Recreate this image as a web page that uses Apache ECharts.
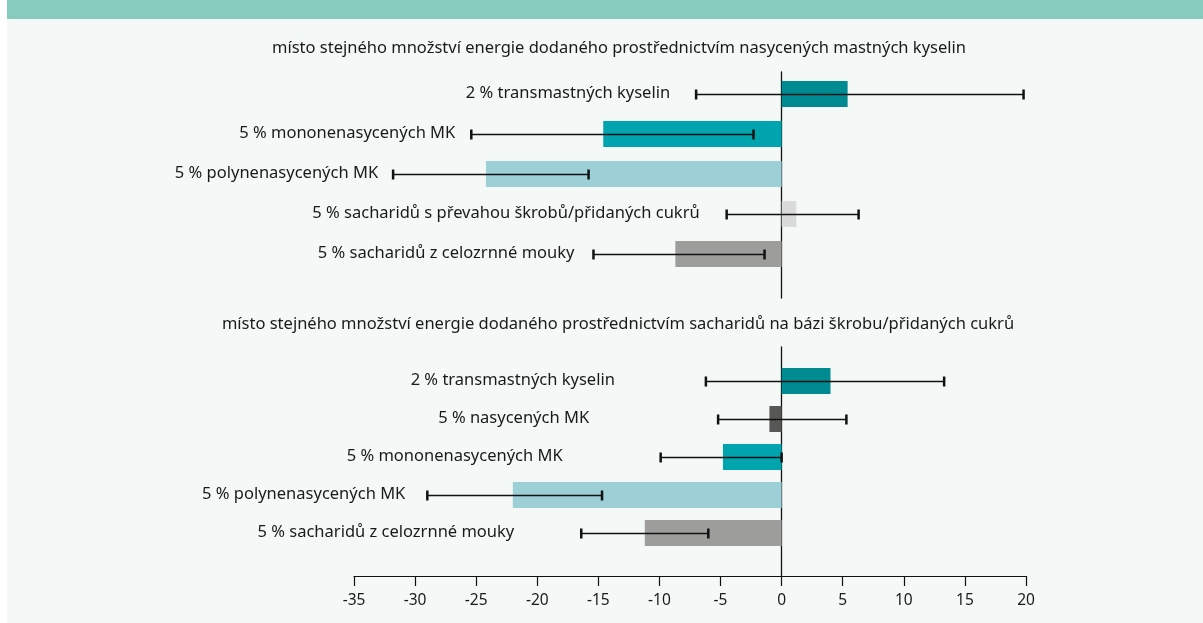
<!DOCTYPE html>
<html>
<head>
<meta charset="utf-8">
<script src="https://cdn.jsdelivr.net/npm/echarts@6/dist/echarts.min.js"></script>
<style>
html,body{margin:0;padding:0;background:#ffffff;}
#chart{width:1203px;height:623px;}
</style>
</head>
<body>
<div id="chart"></div>
<script>
// ---- data ----
const titleTop = 'místo stejného množství energie dodaného prostřednictvím nasycených mastných kyselin';
const titleBottom = 'místo stejného množství energie dodaného prostřednictvím sacharidů na bázi škrobu/přidaných cukrů';

const categoriesTop = ['2 % transmastných kyselin', '5 % mononenasycených MK', '5 % polynenasycených MK', '5 % sacharidů s převahou škrobů/přidaných cukrů', '5 % sacharidů z celozrnné mouky'];
const valuesTop = [5.4, -14.6, -24.2, 1.2, -8.7];
const lowTop = [-7.0, -25.4, -31.8, -4.5, -15.4];
const highTop = [19.8, -2.3, -15.8, 6.3, -1.4];

const categoriesBottom = ['2 % transmastných kyselin', '5 % nasycených MK', '5 % mononenasycených MK', '5 % polynenasycených MK', '5 % sacharidů z celozrnné mouky'];
const valuesBottom = [4.0, -1.0, -4.8, -22.0, -11.2];
const lowBottom = [-6.2, -5.2, -9.9, -29.0, -16.4];
const highBottom = [13.3, 5.3, 0.0, -14.7, -6.0];

const xTicks = [-35, -30, -25, -20, -15, -10, -5, 0, 5, 10, 15, 20];

// ---- styles / layout ----
const colorsTop = ['#008a91', '#00a4ae', '#9dcfd6', '#dadada', '#9d9d9c'];
const colorsBottom = ['#008a91', '#575756', '#00a4ae', '#9dcfd6', '#9d9d9c'];
const labelGapTop = [26, 16, 15, 27, 19];
const labelGapBottom = [91, 129, 98, 22, 67];

const TXT = '#1a1a1a';
const LABEL_FONT = '16.5px "Noto Sans"';

function errSeries(cats, low, high, gaps, xi, yi) {
  const data = cats.map((c, i) => [i, low[i], high[i]]);
  return {
    type: 'custom',
    xAxisIndex: xi, yAxisIndex: yi,
    z: 5,
    silent: true,
    data: data,
    encode: {y: 0, x: [1, 2]},
    renderItem: function (params, api) {
      const i = api.value(0);
      const p1 = api.coord([api.value(1), i]);
      const p2 = api.coord([api.value(2), i]);
      const y = Math.round(p1[1]) + 0.5;
      const cap = 5;
      return {
        type: 'group',
        children: [
          {type: 'line', shape: {x1: p1[0], y1: y, x2: p2[0], y2: y}, style: {stroke: '#111', lineWidth: 1.5}},
          {type: 'line', shape: {x1: p1[0], y1: y - cap, x2: p1[0], y2: y + cap}, style: {stroke: '#111', lineWidth: 2.5}},
          {type: 'line', shape: {x1: p2[0], y1: y - cap, x2: p2[0], y2: y + cap}, style: {stroke: '#111', lineWidth: 2.5}},
          {type: 'text', x: p1[0] - gaps[params.dataIndex], y: y - 1,
            style: {text: cats[params.dataIndex], align: 'right', verticalAlign: 'middle', font: LABEL_FONT, fill: TXT}}
        ]
      };
    }
  };
}

const GL = 354, GW = 672;
const hiddenX = (gi) => ({type: 'value', gridIndex: gi, min: -35, max: 20, interval: 5, show: false});
const hiddenCatY = (gi, cats) => ({type: 'category', gridIndex: gi, data: cats, inverse: true, show: false});

const option = {
  backgroundColor: '#ffffff',
  animation: false,
  graphic: [
    {type: 'rect', left: 7, top: 0, z: -10, shape: {width: 1196, height: 623}, style: {fill: '#f4f8f7'}},
    {type: 'rect', left: 7, top: 0, z: -9, shape: {width: 1196, height: 19}, style: {fill: '#86cbbe'}}
  ],
  title: [
    {text: titleTop, left: 614, top: 35, textAlign: 'center',
      textStyle: {fontFamily: 'Noto Sans', fontSize: 16.5, fontWeight: 'normal', color: TXT}},
    {text: titleBottom, left: 613, top: 311, textAlign: 'center',
      textStyle: {fontFamily: 'Noto Sans', fontSize: 16.5, fontWeight: 'normal', color: TXT}}
  ],
  grid: [
    {left: GL, width: GW, top: 74, height: 200},
    {left: GL, width: GW, top: 72, height: 226},
    {left: GL, width: GW, top: 362, height: 190},
    {left: GL, width: GW, top: 347, height: 229}
  ],
  xAxis: [
    hiddenX(0),
    hiddenX(1),
    hiddenX(2),
    {type: 'value', gridIndex: 3, min: -35, max: 20, interval: 5, position: 'bottom',
      axisLine: {show: true, onZero: false, lineStyle: {color: '#111', width: 1.2}},
      axisTick: {show: true, length: 10, lineStyle: {color: '#111', width: 1.2}},
      axisLabel: {color: TXT, fontFamily: 'Noto Sans', fontSize: 15.5, margin: 17,
        customValues: xTicks, formatter: (v) => String(v)},
      splitLine: {show: false}}
  ],
  yAxis: [
    hiddenCatY(0, categoriesTop),
    {type: 'value', gridIndex: 1, min: 0, max: 1, axisLine: {show: true, onZero: true, lineStyle: {color: '#111', width: 1.3}},
      axisTick: {show: false}, axisLabel: {show: false}, splitLine: {show: false}},
    hiddenCatY(2, categoriesBottom),
    {type: 'value', gridIndex: 3, min: 0, max: 1, axisLine: {show: true, onZero: true, lineStyle: {color: '#111', width: 1.3}},
      axisTick: {show: false}, axisLabel: {show: false}, splitLine: {show: false}}
  ],
  series: [
    {type: 'bar', xAxisIndex: 0, yAxisIndex: 0, barWidth: 26, z: 3, silent: true,
      data: valuesTop.map((v, i) => ({value: v, itemStyle: {color: colorsTop[i]}}))},
    errSeries(categoriesTop, lowTop, highTop, labelGapTop, 0, 0),
    {type: 'bar', xAxisIndex: 2, yAxisIndex: 2, barWidth: 26, z: 3, silent: true,
      data: valuesBottom.map((v, i) => ({value: v, itemStyle: {color: colorsBottom[i]}}))},
    errSeries(categoriesBottom, lowBottom, highBottom, labelGapBottom, 2, 2)
  ]
};

const chart = echarts.init(document.getElementById('chart'), null, {renderer: 'canvas'});
chart.setOption(option);
</script>
</body>
</html>
